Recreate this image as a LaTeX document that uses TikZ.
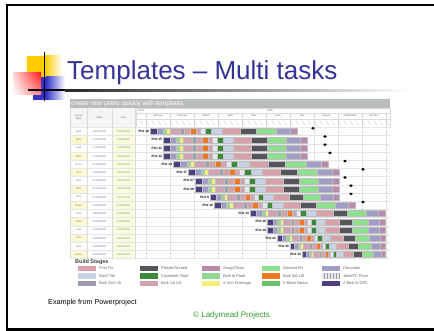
\documentclass[tikz,border=0pt]{standalone}
\usepackage{fontspec}
\setmainfont{Liberation Sans}
\usepackage{tikz}
\usetikzlibrary{patterns,shadings}

\definecolor{titleblue}{HTML}{333399}
\definecolor{logoyellow}{HTML}{FFCC00}
\definecolor{logored}{HTML}{FF1A1A}
\definecolor{logoblue}{HTML}{3333CC}
\definecolor{bargrey}{HTML}{B9BDB9}
\definecolor{gridgrey}{HTML}{DADADA}
\definecolor{cellyellow}{HTML}{FAFAD2}
\definecolor{copygreen}{HTML}{2E9E2E}
% build stages
\definecolor{firstfix}{HTML}{D8A0A8}
\definecolor{rooftile}{HTML}{C8D2E2}
\definecolor{bwktwo}{HTML}{9C9CAA}
\definecolor{plaster}{HTML}{55555A}
\definecolor{carproof}{HTML}{3A8A3A}
\definecolor{bwkone}{HTML}{CFA2B4}
\definecolor{snag}{HTML}{B88AAA}
\definecolor{bwkplate}{HTML}{92D892}
\definecolor{drainage}{HTML}{F2F07A}
\definecolor{secfix}{HTML}{8EE08E}
\definecolor{bwkthree}{HTML}{F07822}
\definecolor{blockbeam}{HTML}{6CBF6C}
\definecolor{decorator}{HTML}{A09CC8}
\definecolor{joist}{HTML}{E4E6EE}
\definecolor{bwkdpc}{HTML}{4E3E82}

\tikzset{
  tiny/.style={font=\fontsize{2.6}{3}\selectfont, inner sep=0pt},
  plotlabel/.style={font=\fontsize{3.2}{3.5}\selectfont\bfseries, inner sep=0pt, anchor=east},
  keybox/.style={draw=black!40, line width=0.2pt},
  keytext/.style={font=\fontsize{4}{4.5}\selectfont, text=black!60, inner sep=0pt, anchor=west},
  gridline/.style={gridgrey, line width=0.3pt},
}

% one bar of build stages: row centre, start, end
\newcommand{\ganttbar}[3]{%
  \foreach \a/\b/\col in {0/7/bwkdpc, 7/13/decorator, 13/16/bwkplate, 16/20/drainage, 20/30/bwkone, 30/34/bwktwo, 34/40/firstfix, 40/46/bwkthree, 46/50/bwkone, 50/55/joist, 55/61/carproof, 61/72/rooftile, 72/90/firstfix, 90/106/plaster, 106/126/secfix, 126/140/decorator, 140/147/snag}
    \filldraw[fill=\col, draw=black!25, line width=0.15pt] ({#2+(#3-#2)*(\a/147)},#1-3) rectangle ({#2+(#3-#2)*(\b/147)},#1+3);
}

\begin{document}
\begin{tikzpicture}[x=1pt,y=-1pt]
\useasboundingbox (0,0) rectangle (434,331);

% slide frame
\draw[line width=2.2pt] (434,5) -- (7,5) -- (7,329.5) -- (434,329.5);

% logo
\fill[logoyellow] (27,56) rectangle (45,77);
\shade[left color=logoyellow, right color=white] (45,56) rectangle (62,77);
\fill[logoblue] (33,77) rectangle (46,100);
\shade[left color=logoblue, right color=white] (46,77) rectangle (65,100);
\shade[upper left=red!15, upper right=logored, lower left=white, lower right=red!45] (13,73) rectangle (41,95);
\fill[black] (28,89.2) rectangle (65,91.4);
\shade[left color=black!85, right color=white] (65,89.2) rectangle (410,91.4);
\draw[line width=1.5pt] (44.7,52) -- (44.7,101);

\node[anchor=base west, inner sep=0pt, text=titleblue, font=\fontsize{26}{30}\selectfont] (title) at (67,80) {Templates -- Multi tasks};

% screenshot header
\fill[bargrey] (70,99) rectangle (390,108);
\node[anchor=base west, inner sep=0pt, text=white, font=\fontsize{6.4}{7}\selectfont] (shothead) at (71,106) {create new plans quickly with templates};

% column heads
\fill[black!4] (70,108) rectangle (136,127);
\node[tiny, align=center, text=black!60] (typehead) at (78.5,117.5) {House\\Type};
\node[tiny, text=black!60] (starthead) at (99.5,117.5) {Start};
\node[tiny, text=black!60] (endhead) at (123.5,117.5) {End};

% timeline head
\draw[gridline] (136,108) rectangle (390,127);
\draw[gridline] (136,113) -- (390,113);
\draw[gridline] (136,119) -- (390,119);
\node[tiny, anchor=west, text=black!60] (yearA) at (138,110.5) {2004};
\node[tiny, text=black!60] (yearB) at (270,110.5) {2005};
\foreach \m/\mn in {0/January, 1/February, 2/March, 3/April, 4/May, 5/June, 6/July, 7/August, 8/September, 9/October} {
  \draw[gridline] (146+24*\m,113) -- (146+24*\m,127);
  \node[tiny, text=black!60] (month\m) at (158+24*\m,116) {\mn};
}
\draw[gridline] (386,113) -- (386,127);
\foreach \w in {0,...,41}
  \draw[black!30, line width=0.2pt] (140+6*\w,121) -- (143+6*\w,125);

% left table
\foreach \i/\t/\s/\e in {0/Ruth/{03/01/2005}/{06/06/2005}, 1/Nina/{17/01/2005}/{20/06/2005}, 2/Leah/{17/01/2005}/{20/06/2005}, 3/Nina/{17/01/2005}/{20/06/2005}, 4/Rose/{31/01/2005}/{04/07/2005}, 5/Tess/{14/02/2005}/{18/07/2005}, 6/Tess/{21/02/2005}/{18/07/2005}, 7/Ruth/{21/02/2005}/{18/07/2005}, 8/Tess/{07/03/2005}/{18/07/2005}, 9/Rose/{14/03/2005}/{01/08/2005}, 10/Tess/{18/04/2005}/{29/08/2005}, 11/Tess/{02/05/2005}/{29/08/2005}, 12/Leah/{02/05/2005}/{29/08/2005}, 13/Tess/{16/05/2005}/{29/08/2005}, 14/Tess/{23/05/2005}/{29/08/2005}, 15/Anna/{06/06/2005}/{29/08/2005}} {
  \ifodd\i \fill[cellyellow] (70,127.4+8.2*\i) rectangle (87,135.6+8.2*\i); \fi
  \fill[cellyellow!70] (112,127.4+8.2*\i) rectangle (135,135.6+8.2*\i);
  \node[tiny, text=black!55] (type\i) at (78.5,131.5+8.2*\i) {\t};
  \node[tiny, text=blue!40!black!60] (start\i) at (99.5,131.5+8.2*\i) {\s};
  \node[tiny, text=green!40!black!60] (end\i) at (123.5,131.5+8.2*\i) {\e};
}
\foreach \i in {0,...,16}
  \draw[black!10, line width=0.3pt] (70,127.4+8.2*\i) -- (390,127.4+8.2*\i);
\foreach \xc in {70,87,112,135}
  \draw[gridline] (\xc,108) -- (\xc,258.6);
\foreach \m in {0,...,10}
  \draw[gridline, densely dotted] (146+24*\m,127) -- (146+24*\m,258.6);

% bars
\foreach \i/\xa/\xb/\n in {0/150/297/16, 1/163/307/15, 2/163/307/11, 3/163/307/12, 4/173/328/14, 5/188/339/17, 6/195/339/27, 7/195/339/26, 8/210/339/9, 9/214/355/10, 10/250/385/13, 11/267/385/19, 12/267/385/18, 13/277/385/22, 14/290/385/30, 15/302/385/33} {
  \ganttbar{131.5+8.2*\i}{\xa}{\xb}
  \node[plotlabel] (plot\n) at (\xa-0.8,131.5+8.2*\i) {Plot \n};
}

% milestones
\foreach \i/\mx in {0/313, 1/325, 2/325, 3/330, 4/345, 5/363, 6/345, 7/351, 8/351, 9/363}
  \fill (\mx,128.3+8.2*\i) +(-1.8,0) -- +(0,-1.4) -- +(1.8,0) -- +(0,1.4) -- cycle;

% legend
\node[anchor=west, inner sep=0pt, text=black!75, font=\fontsize{5.5}{6}\selectfont\bfseries] (stages) at (75,262) {Build Stages};
\foreach \k/\kx/\ky/\col/\lab in {1/78/268.5/firstfix/First Fix, 2/78/276/rooftile/Roof Tile, 3/78/283.5/bwktwo/Bwk 2nd Lift,
  4/140/268.5/plaster/{Plaster/Screed}, 5/140/276/carproof/Carpenter Roof, 6/140/283.5/bwkone/Bwk 1st Lift,
  7/202/268.5/snag/{Snag/Clean}, 8/202/276/bwkplate/Bwk to Plate, 9/202/283.5/drainage/4 Unit Drainage,
  10/262/268.5/secfix/Second Fix, 11/262/276/bwkthree/Bwk 3rd Lift, 12/262/283.5/blockbeam/3 Block Beam,
  13/322/268.5/decorator/Decorator, 14/322/276/joist/{Joist/FC Floor}, 15/322/283.5/bwkdpc/2 Bwk to DPC} {
  \fill[\col] (\kx,\ky-2.6) rectangle (\kx+18,\ky+2.6);
  \node[keytext] (key\k) at (\kx+21,\ky) {\lab};
}
\fill[pattern=vertical lines, pattern color=black!40] (322,273.4) rectangle (340,278.6);

% footer
\node[anchor=west, inner sep=0pt, font=\fontsize{7.2}{8}\selectfont] (example) at (48,303) {Example from Powerproject};
\node[anchor=west, inner sep=0pt, text=copygreen, font=\fontsize{8}{9}\selectfont] (copyright) at (193,315) {© Ladymead Projects};
\end{tikzpicture}
\end{document}
